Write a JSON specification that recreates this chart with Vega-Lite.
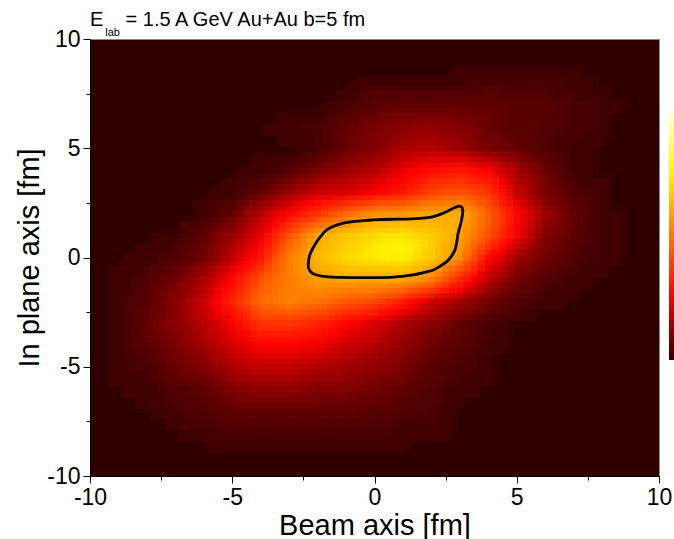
{
  "$schema": "https://vega.github.io/schema/vega-lite/v6.json",
  "width": 569,
  "height": 437,
  "autosize": {"type": "none"},
  "padding": {"left": 90, "top": 39, "right": 15, "bottom": 63},
  "background": "white",
  "title": {
    "text": "E\u00a0\u00a0\u00a0\u00a0= 1.5 A GeV Au+Au b=5 fm",
    "subtitle": "\u200b\u00a0\u00a0\u00a0\u00a0\u00a0lab",
    "anchor": "start",
    "frame": "group",
    "orient": "top",
    "font": "Liberation Sans",
    "fontSize": 20,
    "fontWeight": "normal",
    "color": "black",
    "subtitleFont": "Liberation Sans",
    "subtitleFontSize": 11,
    "subtitleColor": "black",
    "subtitlePadding": -2.5,
    "offset": 0,
    "dy": 10
  },
  "config": {
    "view": {"fill": "#300000", "stroke": "#888888", "strokeWidth": 1},
    "axis": {
      "grid": false,
      "domainColor": "black",
      "domainWidth": 1,
      "tickColor": "black",
      "tickWidth": 1,
      "labelColor": "black",
      "titleColor": "black",
      "labelFont": "Liberation Sans",
      "titleFont": "Liberation Sans",
      "labelFontSize": 23,
      "titleFontSize": 29,
      "titleFontWeight": "normal",
      "labelPadding": 3,
      "labelFlush": false,
      "labelOverlap": false
    }
  },
  "datasets": {
    "cells": [
      {"x":3,"y":8.5,"v":2},{"x":3.5,"y":8.5,"v":2},{"x":4,"y":8.5,"v":2},{"x":4.5,"y":8.5,"v":2},{"x":5,"y":8.5,"v":2},{"x":5.5,"y":8.5,"v":2},{"x":6,"y":8.5,"v":2},{"x":6.5,"y":8.5,"v":2},{"x":7,"y":8.5,"v":2},
      {"x":-0.5,"y":8,"v":2},{"x":0,"y":8,"v":2},{"x":0.5,"y":8,"v":2},{"x":1,"y":8,"v":2},{"x":1.5,"y":8,"v":2},{"x":2,"y":8,"v":2},{"x":2.5,"y":8,"v":2},{"x":3,"y":8,"v":2},{"x":3.5,"y":8,"v":3},{"x":4,"y":8,"v":3},{"x":4.5,"y":8,"v":3},{"x":5,"y":8,"v":3},{"x":5.5,"y":8,"v":3},{"x":6,"y":8,"v":3},{"x":6.5,"y":8,"v":3},{"x":7,"y":8,"v":2},{"x":7.5,"y":8,"v":2},
      {"x":-1,"y":7.5,"v":2},{"x":-0.5,"y":7.5,"v":3},{"x":0,"y":7.5,"v":4},{"x":0.5,"y":7.5,"v":4},{"x":1,"y":7.5,"v":4},{"x":1.5,"y":7.5,"v":4},{"x":2,"y":7.5,"v":4},{"x":2.5,"y":7.5,"v":4},{"x":3,"y":7.5,"v":4},{"x":3.5,"y":7.5,"v":4},{"x":4,"y":7.5,"v":5},{"x":4.5,"y":7.5,"v":4},{"x":5,"y":7.5,"v":4},{"x":5.5,"y":7.5,"v":4},{"x":6,"y":7.5,"v":4},{"x":6.5,"y":7.5,"v":3},{"x":7,"y":7.5,"v":3},{"x":7.5,"y":7.5,"v":2},{"x":8,"y":7.5,"v":2},
      {"x":-1.5,"y":7,"v":2},{"x":-1,"y":7,"v":3},{"x":-0.5,"y":7,"v":4},{"x":0,"y":7,"v":5},{"x":0.5,"y":7,"v":6},{"x":1,"y":7,"v":6},{"x":1.5,"y":7,"v":6},{"x":2,"y":7,"v":6},{"x":2.5,"y":7,"v":6},{"x":3,"y":7,"v":6},{"x":3.5,"y":7,"v":6},{"x":4,"y":7,"v":6},{"x":4.5,"y":7,"v":6},{"x":5,"y":7,"v":5},{"x":5.5,"y":7,"v":5},{"x":6,"y":7,"v":5},{"x":6.5,"y":7,"v":4},{"x":7,"y":7,"v":3},{"x":7.5,"y":7,"v":3},{"x":8,"y":7,"v":2},{"x":8.5,"y":7,"v":2},
      {"x":-3,"y":6.5,"v":2},{"x":-2.5,"y":6.5,"v":2},{"x":-2,"y":6.5,"v":2},{"x":-1.5,"y":6.5,"v":3},{"x":-1,"y":6.5,"v":5},{"x":-0.5,"y":6.5,"v":6},{"x":0,"y":6.5,"v":7},{"x":0.5,"y":6.5,"v":8},{"x":1,"y":6.5,"v":9},{"x":1.5,"y":6.5,"v":9},{"x":2,"y":6.5,"v":9},{"x":2.5,"y":6.5,"v":9},{"x":3,"y":6.5,"v":8},{"x":3.5,"y":6.5,"v":7},{"x":4,"y":6.5,"v":7},{"x":4.5,"y":6.5,"v":6},{"x":5,"y":6.5,"v":5},{"x":5.5,"y":6.5,"v":5},{"x":6,"y":6.5,"v":5},{"x":6.5,"y":6.5,"v":4},{"x":7,"y":6.5,"v":3},{"x":7.5,"y":6.5,"v":3},{"x":8,"y":6.5,"v":2},
      {"x":-3.5,"y":6,"v":2},{"x":-3,"y":6,"v":2},{"x":-2.5,"y":6,"v":3},{"x":-2,"y":6,"v":3},{"x":-1.5,"y":6,"v":5},{"x":-1,"y":6,"v":6},{"x":-0.5,"y":6,"v":8},{"x":0,"y":6,"v":9},{"x":0.5,"y":6,"v":10},{"x":1,"y":6,"v":11},{"x":1.5,"y":6,"v":12},{"x":2,"y":6,"v":12},{"x":2.5,"y":6,"v":11},{"x":3,"y":6,"v":10},{"x":3.5,"y":6,"v":9},{"x":4,"y":6,"v":7},{"x":4.5,"y":6,"v":6},{"x":5,"y":6,"v":5},{"x":5.5,"y":6,"v":5},{"x":6,"y":6,"v":4},{"x":6.5,"y":6,"v":4},{"x":7,"y":6,"v":3},{"x":7.5,"y":6,"v":3},{"x":8,"y":6,"v":2},
      {"x":-3,"y":5.5,"v":2},{"x":-2.5,"y":5.5,"v":2},{"x":-2,"y":5.5,"v":3},{"x":-1.5,"y":5.5,"v":5},{"x":-1,"y":5.5,"v":7},{"x":-0.5,"y":5.5,"v":8},{"x":0,"y":5.5,"v":10},{"x":0.5,"y":5.5,"v":11},{"x":1,"y":5.5,"v":13},{"x":1.5,"y":5.5,"v":14},{"x":2,"y":5.5,"v":14},{"x":2.5,"y":5.5,"v":13},{"x":3,"y":5.5,"v":12},{"x":3.5,"y":5.5,"v":10},{"x":4,"y":5.5,"v":8},{"x":4.5,"y":5.5,"v":7},{"x":5,"y":5.5,"v":6},{"x":5.5,"y":5.5,"v":5},{"x":6,"y":5.5,"v":4},{"x":6.5,"y":5.5,"v":3},{"x":7,"y":5.5,"v":3},{"x":7.5,"y":5.5,"v":2},{"x":8,"y":5.5,"v":2},
      {"x":-2.5,"y":5,"v":2},{"x":-2,"y":5,"v":3},{"x":-1.5,"y":5,"v":5},{"x":-1,"y":5,"v":7},{"x":-0.5,"y":5,"v":9},{"x":0,"y":5,"v":10},{"x":0.5,"y":5,"v":13},{"x":1,"y":5,"v":15},{"x":1.5,"y":5,"v":16},{"x":2,"y":5,"v":16},{"x":2.5,"y":5,"v":15},{"x":3,"y":5,"v":13},{"x":3.5,"y":5,"v":11},{"x":4,"y":5,"v":9},{"x":4.5,"y":5,"v":8},{"x":5,"y":5,"v":6},{"x":5.5,"y":5,"v":5},{"x":6,"y":5,"v":4},{"x":6.5,"y":5,"v":3},{"x":7,"y":5,"v":2},{"x":7.5,"y":5,"v":2},
      {"x":-4,"y":4.5,"v":2},{"x":-3.5,"y":4.5,"v":2},{"x":-3,"y":4.5,"v":3},{"x":-2.5,"y":4.5,"v":4},{"x":-2,"y":4.5,"v":6},{"x":-1.5,"y":4.5,"v":8},{"x":-1,"y":4.5,"v":10},{"x":-0.5,"y":4.5,"v":12},{"x":0,"y":4.5,"v":13},{"x":0.5,"y":4.5,"v":16},{"x":1,"y":4.5,"v":19},{"x":1.5,"y":4.5,"v":21},{"x":2,"y":4.5,"v":22},{"x":2.5,"y":4.5,"v":22},{"x":3,"y":4.5,"v":22},{"x":3.5,"y":4.5,"v":19},{"x":4,"y":4.5,"v":17},{"x":4.5,"y":4.5,"v":14},{"x":5,"y":4.5,"v":11},{"x":5.5,"y":4.5,"v":8},{"x":6,"y":4.5,"v":6},{"x":6.5,"y":4.5,"v":4},{"x":7,"y":4.5,"v":2},{"x":7.5,"y":4.5,"v":2},
      {"x":-4.5,"y":4,"v":2},{"x":-4,"y":4,"v":2},{"x":-3.5,"y":4,"v":3},{"x":-3,"y":4,"v":4},{"x":-2.5,"y":4,"v":7},{"x":-2,"y":4,"v":9},{"x":-1.5,"y":4,"v":11},{"x":-1,"y":4,"v":13},{"x":-0.5,"y":4,"v":15},{"x":0,"y":4,"v":16},{"x":0.5,"y":4,"v":20},{"x":1,"y":4,"v":23},{"x":1.5,"y":4,"v":26},{"x":2,"y":4,"v":28},{"x":2.5,"y":4,"v":29},{"x":3,"y":4,"v":30},{"x":3.5,"y":4,"v":28},{"x":4,"y":4,"v":25},{"x":4.5,"y":4,"v":20},{"x":5,"y":4,"v":15},{"x":5.5,"y":4,"v":11},{"x":6,"y":4,"v":7},{"x":6.5,"y":4,"v":5},{"x":7,"y":4,"v":2},{"x":7.5,"y":4,"v":2},
      {"x":-5,"y":3.5,"v":2},{"x":-4.5,"y":3.5,"v":3},{"x":-4,"y":3.5,"v":4},{"x":-3.5,"y":3.5,"v":6},{"x":-3,"y":3.5,"v":9},{"x":-2.5,"y":3.5,"v":11},{"x":-2,"y":3.5,"v":14},{"x":-1.5,"y":3.5,"v":16},{"x":-1,"y":3.5,"v":17},{"x":-0.5,"y":3.5,"v":19},{"x":0,"y":3.5,"v":21},{"x":0.5,"y":3.5,"v":24},{"x":1,"y":3.5,"v":27},{"x":1.5,"y":3.5,"v":30},{"x":2,"y":3.5,"v":34},{"x":2.5,"y":3.5,"v":35},{"x":3,"y":3.5,"v":36},{"x":3.5,"y":3.5,"v":33},{"x":4,"y":3.5,"v":31},{"x":4.5,"y":3.5,"v":24},{"x":5,"y":3.5,"v":17},{"x":5.5,"y":3.5,"v":13},{"x":6,"y":3.5,"v":8},{"x":6.5,"y":3.5,"v":6},{"x":7,"y":3.5,"v":3},{"x":7.5,"y":3.5,"v":2},{"x":8,"y":3.5,"v":2},
      {"x":-5.5,"y":3,"v":2},{"x":-5,"y":3,"v":2},{"x":-4.5,"y":3,"v":4},{"x":-4,"y":3,"v":6},{"x":-3.5,"y":3,"v":10},{"x":-3,"y":3,"v":13},{"x":-2.5,"y":3,"v":16},{"x":-2,"y":3,"v":19},{"x":-1.5,"y":3,"v":20},{"x":-1,"y":3,"v":21},{"x":-0.5,"y":3,"v":23},{"x":0,"y":3,"v":25},{"x":0.5,"y":3,"v":28},{"x":1,"y":3,"v":30},{"x":1.5,"y":3,"v":35},{"x":2,"y":3,"v":39},{"x":2.5,"y":3,"v":41},{"x":3,"y":3,"v":42},{"x":3.5,"y":3,"v":39},{"x":4,"y":3,"v":36},{"x":4.5,"y":3,"v":28},{"x":5,"y":3,"v":19},{"x":5.5,"y":3,"v":14},{"x":6,"y":3,"v":9},{"x":6.5,"y":3,"v":7},{"x":7,"y":3,"v":4},{"x":7.5,"y":3,"v":3},{"x":8,"y":3,"v":2},
      {"x":-6,"y":2.5,"v":2},{"x":-5.5,"y":2.5,"v":3},{"x":-5,"y":2.5,"v":4},{"x":-4.5,"y":2.5,"v":8},{"x":-4,"y":2.5,"v":12},{"x":-3.5,"y":2.5,"v":16},{"x":-3,"y":2.5,"v":20},{"x":-2.5,"y":2.5,"v":24},{"x":-2,"y":2.5,"v":28},{"x":-1.5,"y":2.5,"v":31},{"x":-1,"y":2.5,"v":34},{"x":-0.5,"y":2.5,"v":37},{"x":0,"y":2.5,"v":40},{"x":0.5,"y":2.5,"v":42},{"x":1,"y":2.5,"v":43},{"x":1.5,"y":2.5,"v":46},{"x":2,"y":2.5,"v":49},{"x":2.5,"y":2.5,"v":50},{"x":3,"y":2.5,"v":52},{"x":3.5,"y":2.5,"v":46},{"x":4,"y":2.5,"v":41},{"x":4.5,"y":2.5,"v":32},{"x":5,"y":2.5,"v":23},{"x":5.5,"y":2.5,"v":17},{"x":6,"y":2.5,"v":11},{"x":6.5,"y":2.5,"v":8},{"x":7,"y":2.5,"v":5},{"x":7.5,"y":2.5,"v":4},{"x":8,"y":2.5,"v":2},
      {"x":-6,"y":2,"v":2},{"x":-5.5,"y":2,"v":4},{"x":-5,"y":2,"v":6},{"x":-4.5,"y":2,"v":12},{"x":-4,"y":2,"v":17},{"x":-3.5,"y":2,"v":22},{"x":-3,"y":2,"v":27},{"x":-2.5,"y":2,"v":32},{"x":-2,"y":2,"v":36},{"x":-1.5,"y":2,"v":42},{"x":-1,"y":2,"v":47},{"x":-0.5,"y":2,"v":51},{"x":0,"y":2,"v":55},{"x":0.5,"y":2,"v":56},{"x":1,"y":2,"v":56},{"x":1.5,"y":2,"v":58},{"x":2,"y":2,"v":59},{"x":2.5,"y":2,"v":60},{"x":3,"y":2,"v":61},{"x":3.5,"y":2,"v":53},{"x":4,"y":2,"v":45},{"x":4.5,"y":2,"v":36},{"x":5,"y":2,"v":27},{"x":5.5,"y":2,"v":20},{"x":6,"y":2,"v":13},{"x":6.5,"y":2,"v":10},{"x":7,"y":2,"v":6},{"x":7.5,"y":2,"v":4},{"x":8,"y":2,"v":2},{"x":8.5,"y":2,"v":2},
      {"x":-6.5,"y":1.5,"v":3},{"x":-6,"y":1.5,"v":4},{"x":-5.5,"y":1.5,"v":7},{"x":-5,"y":1.5,"v":10},{"x":-4.5,"y":1.5,"v":15},{"x":-4,"y":1.5,"v":20},{"x":-3.5,"y":1.5,"v":27},{"x":-3,"y":1.5,"v":35},{"x":-2.5,"y":1.5,"v":41},{"x":-2,"y":1.5,"v":48},{"x":-1.5,"y":1.5,"v":52},{"x":-1,"y":1.5,"v":57},{"x":-0.5,"y":1.5,"v":60},{"x":0,"y":1.5,"v":63},{"x":0.5,"y":1.5,"v":63},{"x":1,"y":1.5,"v":64},{"x":1.5,"y":1.5,"v":63},{"x":2,"y":1.5,"v":63},{"x":2.5,"y":1.5,"v":61},{"x":3,"y":1.5,"v":60},{"x":3.5,"y":1.5,"v":52},{"x":4,"y":1.5,"v":44},{"x":4.5,"y":1.5,"v":35},{"x":5,"y":1.5,"v":26},{"x":5.5,"y":1.5,"v":19},{"x":6,"y":1.5,"v":12},{"x":6.5,"y":1.5,"v":9},{"x":7,"y":1.5,"v":6},{"x":7.5,"y":1.5,"v":4},{"x":8,"y":1.5,"v":2},{"x":8.5,"y":1.5,"v":2},
      {"x":-7.5,"y":1,"v":2},{"x":-7,"y":1,"v":2},{"x":-6.5,"y":1,"v":4},{"x":-6,"y":1,"v":6},{"x":-5.5,"y":1,"v":10},{"x":-5,"y":1,"v":13},{"x":-4.5,"y":1,"v":18},{"x":-4,"y":1,"v":23},{"x":-3.5,"y":1,"v":33},{"x":-3,"y":1,"v":42},{"x":-2.5,"y":1,"v":51},{"x":-2,"y":1,"v":59},{"x":-1.5,"y":1,"v":63},{"x":-1,"y":1,"v":66},{"x":-0.5,"y":1,"v":68},{"x":0,"y":1,"v":70},{"x":0.5,"y":1,"v":72},{"x":1,"y":1,"v":72},{"x":1.5,"y":1,"v":69},{"x":2,"y":1,"v":67},{"x":2.5,"y":1,"v":63},{"x":3,"y":1,"v":58},{"x":3.5,"y":1,"v":50},{"x":4,"y":1,"v":42},{"x":4.5,"y":1,"v":33},{"x":5,"y":1,"v":24},{"x":5.5,"y":1,"v":17},{"x":6,"y":1,"v":10},{"x":6.5,"y":1,"v":8},{"x":7,"y":1,"v":5},{"x":7.5,"y":1,"v":4},{"x":8,"y":1,"v":2},{"x":8.5,"y":1,"v":2},
      {"x":-8,"y":0.5,"v":2},{"x":-7.5,"y":0.5,"v":2},{"x":-7,"y":0.5,"v":3},{"x":-6.5,"y":0.5,"v":5},{"x":-6,"y":0.5,"v":7},{"x":-5.5,"y":0.5,"v":11},{"x":-5,"y":0.5,"v":16},{"x":-4.5,"y":0.5,"v":21},{"x":-4,"y":0.5,"v":27},{"x":-3.5,"y":0.5,"v":37},{"x":-3,"y":0.5,"v":47},{"x":-2.5,"y":0.5,"v":54},{"x":-2,"y":0.5,"v":61},{"x":-1.5,"y":0.5,"v":64},{"x":-1,"y":0.5,"v":68},{"x":-0.5,"y":0.5,"v":70},{"x":0,"y":0.5,"v":73},{"x":0.5,"y":0.5,"v":75},{"x":1,"y":0.5,"v":75},{"x":1.5,"y":0.5,"v":72},{"x":2,"y":0.5,"v":67},{"x":2.5,"y":0.5,"v":61},{"x":3,"y":0.5,"v":56},{"x":3.5,"y":0.5,"v":45},{"x":4,"y":0.5,"v":35},{"x":4.5,"y":0.5,"v":27},{"x":5,"y":0.5,"v":19},{"x":5.5,"y":0.5,"v":14},{"x":6,"y":0.5,"v":9},{"x":6.5,"y":0.5,"v":7},{"x":7,"y":0.5,"v":5},{"x":7.5,"y":0.5,"v":3},{"x":8,"y":0.5,"v":2},{"x":8.5,"y":0.5,"v":2},
      {"x":-8.5,"y":0,"v":2},{"x":-8,"y":0,"v":2},{"x":-7.5,"y":0,"v":3},{"x":-7,"y":0,"v":4},{"x":-6.5,"y":0,"v":6},{"x":-6,"y":0,"v":8},{"x":-5.5,"y":0,"v":13},{"x":-5,"y":0,"v":18},{"x":-4.5,"y":0,"v":24},{"x":-4,"y":0,"v":30},{"x":-3.5,"y":0,"v":41},{"x":-3,"y":0,"v":51},{"x":-2.5,"y":0,"v":57},{"x":-2,"y":0,"v":63},{"x":-1.5,"y":0,"v":66},{"x":-1,"y":0,"v":69},{"x":-0.5,"y":0,"v":71},{"x":0,"y":0,"v":73},{"x":0.5,"y":0,"v":74},{"x":1,"y":0,"v":74},{"x":1.5,"y":0,"v":70},{"x":2,"y":0,"v":66},{"x":2.5,"y":0,"v":60},{"x":3,"y":0,"v":53},{"x":3.5,"y":0,"v":40},{"x":4,"y":0,"v":27},{"x":4.5,"y":0,"v":21},{"x":5,"y":0,"v":14},{"x":5.5,"y":0,"v":11},{"x":6,"y":0,"v":8},{"x":6.5,"y":0,"v":6},{"x":7,"y":0,"v":4},{"x":7.5,"y":0,"v":3},{"x":8,"y":0,"v":2},{"x":8.5,"y":0,"v":2},
      {"x":-9,"y":-0.5,"v":2},{"x":-8.5,"y":-0.5,"v":2},{"x":-8,"y":-0.5,"v":3},{"x":-7.5,"y":-0.5,"v":5},{"x":-7,"y":-0.5,"v":6},{"x":-6.5,"y":-0.5,"v":9},{"x":-6,"y":-0.5,"v":12},{"x":-5.5,"y":-0.5,"v":17},{"x":-5,"y":-0.5,"v":23},{"x":-4.5,"y":-0.5,"v":29},{"x":-4,"y":-0.5,"v":36},{"x":-3.5,"y":-0.5,"v":44},{"x":-3,"y":-0.5,"v":51},{"x":-2.5,"y":-0.5,"v":56},{"x":-2,"y":-0.5,"v":60},{"x":-1.5,"y":-0.5,"v":62},{"x":-1,"y":-0.5,"v":64},{"x":-0.5,"y":-0.5,"v":65},{"x":0,"y":-0.5,"v":66},{"x":0.5,"y":-0.5,"v":66},{"x":1,"y":-0.5,"v":67},{"x":1.5,"y":-0.5,"v":63},{"x":2,"y":-0.5,"v":59},{"x":2.5,"y":-0.5,"v":51},{"x":3,"y":-0.5,"v":43},{"x":3.5,"y":-0.5,"v":33},{"x":4,"y":-0.5,"v":22},{"x":4.5,"y":-0.5,"v":17},{"x":5,"y":-0.5,"v":11},{"x":5.5,"y":-0.5,"v":9},{"x":6,"y":-0.5,"v":6},{"x":6.5,"y":-0.5,"v":5},{"x":7,"y":-0.5,"v":3},{"x":7.5,"y":-0.5,"v":2},{"x":8,"y":-0.5,"v":2},
      {"x":-9,"y":-1,"v":2},{"x":-8.5,"y":-1,"v":3},{"x":-8,"y":-1,"v":4},{"x":-7.5,"y":-1,"v":6},{"x":-7,"y":-1,"v":8},{"x":-6.5,"y":-1,"v":12},{"x":-6,"y":-1,"v":15},{"x":-5.5,"y":-1,"v":21},{"x":-5,"y":-1,"v":27},{"x":-4.5,"y":-1,"v":35},{"x":-4,"y":-1,"v":42},{"x":-3.5,"y":-1,"v":47},{"x":-3,"y":-1,"v":51},{"x":-2.5,"y":-1,"v":54},{"x":-2,"y":-1,"v":57},{"x":-1.5,"y":-1,"v":58},{"x":-1,"y":-1,"v":59},{"x":-0.5,"y":-1,"v":59},{"x":0,"y":-1,"v":59},{"x":0.5,"y":-1,"v":59},{"x":1,"y":-1,"v":59},{"x":1.5,"y":-1,"v":55},{"x":2,"y":-1,"v":51},{"x":2.5,"y":-1,"v":42},{"x":3,"y":-1,"v":33},{"x":3.5,"y":-1,"v":25},{"x":4,"y":-1,"v":17},{"x":4.5,"y":-1,"v":13},{"x":5,"y":-1,"v":8},{"x":5.5,"y":-1,"v":6},{"x":6,"y":-1,"v":4},{"x":6.5,"y":-1,"v":3},{"x":7,"y":-1,"v":2},{"x":7.5,"y":-1,"v":2},
      {"x":-9,"y":-1.5,"v":2},{"x":-8.5,"y":-1.5,"v":3},{"x":-8,"y":-1.5,"v":5},{"x":-7.5,"y":-1.5,"v":7},{"x":-7,"y":-1.5,"v":10},{"x":-6.5,"y":-1.5,"v":13},{"x":-6,"y":-1.5,"v":17},{"x":-5.5,"y":-1.5,"v":24},{"x":-5,"y":-1.5,"v":30},{"x":-4.5,"y":-1.5,"v":37},{"x":-4,"y":-1.5,"v":45},{"x":-3.5,"y":-1.5,"v":48},{"x":-3,"y":-1.5,"v":51},{"x":-2.5,"y":-1.5,"v":52},{"x":-2,"y":-1.5,"v":53},{"x":-1.5,"y":-1.5,"v":52},{"x":-1,"y":-1.5,"v":51},{"x":-0.5,"y":-1.5,"v":50},{"x":0,"y":-1.5,"v":50},{"x":0.5,"y":-1.5,"v":47},{"x":1,"y":-1.5,"v":45},{"x":1.5,"y":-1.5,"v":40},{"x":2,"y":-1.5,"v":36},{"x":2.5,"y":-1.5,"v":30},{"x":3,"y":-1.5,"v":24},{"x":3.5,"y":-1.5,"v":18},{"x":4,"y":-1.5,"v":13},{"x":4.5,"y":-1.5,"v":9},{"x":5,"y":-1.5,"v":6},{"x":5.5,"y":-1.5,"v":5},{"x":6,"y":-1.5,"v":3},{"x":6.5,"y":-1.5,"v":2},{"x":7,"y":-1.5,"v":2},
      {"x":-9,"y":-2,"v":2},{"x":-8.5,"y":-2,"v":4},{"x":-8,"y":-2,"v":5},{"x":-7.5,"y":-2,"v":8},{"x":-7,"y":-2,"v":11},{"x":-6.5,"y":-2,"v":15},{"x":-6,"y":-2,"v":19},{"x":-5.5,"y":-2,"v":26},{"x":-5,"y":-2,"v":33},{"x":-4.5,"y":-2,"v":40},{"x":-4,"y":-2,"v":47},{"x":-3.5,"y":-2,"v":49},{"x":-3,"y":-2,"v":51},{"x":-2.5,"y":-2,"v":50},{"x":-2,"y":-2,"v":49},{"x":-1.5,"y":-2,"v":46},{"x":-1,"y":-2,"v":43},{"x":-0.5,"y":-2,"v":42},{"x":0,"y":-2,"v":40},{"x":0.5,"y":-2,"v":36},{"x":1,"y":-2,"v":31},{"x":1.5,"y":-2,"v":26},{"x":2,"y":-2,"v":20},{"x":2.5,"y":-2,"v":17},{"x":3,"y":-2,"v":14},{"x":3.5,"y":-2,"v":11},{"x":4,"y":-2,"v":8},{"x":4.5,"y":-2,"v":6},{"x":5,"y":-2,"v":4},{"x":5.5,"y":-2,"v":3},{"x":6,"y":-2,"v":2},{"x":6.5,"y":-2,"v":2},
      {"x":-9,"y":-2.5,"v":2},{"x":-8.5,"y":-2.5,"v":4},{"x":-8,"y":-2.5,"v":6},{"x":-7.5,"y":-2.5,"v":8},{"x":-7,"y":-2.5,"v":11},{"x":-6.5,"y":-2.5,"v":15},{"x":-6,"y":-2.5,"v":18},{"x":-5.5,"y":-2.5,"v":24},{"x":-5,"y":-2.5,"v":29},{"x":-4.5,"y":-2.5,"v":35},{"x":-4,"y":-2.5,"v":42},{"x":-3.5,"y":-2.5,"v":43},{"x":-3,"y":-2.5,"v":44},{"x":-2.5,"y":-2.5,"v":42},{"x":-2,"y":-2.5,"v":41},{"x":-1.5,"y":-2.5,"v":38},{"x":-1,"y":-2.5,"v":35},{"x":-0.5,"y":-2.5,"v":33},{"x":0,"y":-2.5,"v":31},{"x":0.5,"y":-2.5,"v":27},{"x":1,"y":-2.5,"v":23},{"x":1.5,"y":-2.5,"v":19},{"x":2,"y":-2.5,"v":16},{"x":2.5,"y":-2.5,"v":13},{"x":3,"y":-2.5,"v":10},{"x":3.5,"y":-2.5,"v":8},{"x":4,"y":-2.5,"v":6},{"x":4.5,"y":-2.5,"v":4},{"x":5,"y":-2.5,"v":3},{"x":5.5,"y":-2.5,"v":2},
      {"x":-9,"y":-3,"v":2},{"x":-8.5,"y":-3,"v":4},{"x":-8,"y":-3,"v":6},{"x":-7.5,"y":-3,"v":9},{"x":-7,"y":-3,"v":11},{"x":-6.5,"y":-3,"v":14},{"x":-6,"y":-3,"v":17},{"x":-5.5,"y":-3,"v":21},{"x":-5,"y":-3,"v":25},{"x":-4.5,"y":-3,"v":31},{"x":-4,"y":-3,"v":36},{"x":-3.5,"y":-3,"v":36},{"x":-3,"y":-3,"v":36},{"x":-2.5,"y":-3,"v":35},{"x":-2,"y":-3,"v":33},{"x":-1.5,"y":-3,"v":30},{"x":-1,"y":-3,"v":26},{"x":-0.5,"y":-3,"v":24},{"x":0,"y":-3,"v":21},{"x":0.5,"y":-3,"v":18},{"x":1,"y":-3,"v":15},{"x":1.5,"y":-3,"v":13},{"x":2,"y":-3,"v":11},{"x":2.5,"y":-3,"v":9},{"x":3,"y":-3,"v":6},{"x":3.5,"y":-3,"v":5},{"x":4,"y":-3,"v":3},{"x":4.5,"y":-3,"v":2},
      {"x":-9,"y":-3.5,"v":2},{"x":-8.5,"y":-3.5,"v":4},{"x":-8,"y":-3.5,"v":6},{"x":-7.5,"y":-3.5,"v":8},{"x":-7,"y":-3.5,"v":10},{"x":-6.5,"y":-3.5,"v":13},{"x":-6,"y":-3.5,"v":16},{"x":-5.5,"y":-3.5,"v":19},{"x":-5,"y":-3.5,"v":23},{"x":-4.5,"y":-3.5,"v":27},{"x":-4,"y":-3.5,"v":31},{"x":-3.5,"y":-3.5,"v":31},{"x":-3,"y":-3.5,"v":31},{"x":-2.5,"y":-3.5,"v":30},{"x":-2,"y":-3.5,"v":29},{"x":-1.5,"y":-3.5,"v":26},{"x":-1,"y":-3.5,"v":23},{"x":-0.5,"y":-3.5,"v":21},{"x":0,"y":-3.5,"v":19},{"x":0.5,"y":-3.5,"v":16},{"x":1,"y":-3.5,"v":14},{"x":1.5,"y":-3.5,"v":11},{"x":2,"y":-3.5,"v":9},{"x":2.5,"y":-3.5,"v":7},{"x":3,"y":-3.5,"v":6},{"x":3.5,"y":-3.5,"v":4},{"x":4,"y":-3.5,"v":3},{"x":4.5,"y":-3.5,"v":2},
      {"x":-9,"y":-4,"v":2},{"x":-8.5,"y":-4,"v":4},{"x":-8,"y":-4,"v":5},{"x":-7.5,"y":-4,"v":7},{"x":-7,"y":-4,"v":9},{"x":-6.5,"y":-4,"v":12},{"x":-6,"y":-4,"v":14},{"x":-5.5,"y":-4,"v":17},{"x":-5,"y":-4,"v":20},{"x":-4.5,"y":-4,"v":23},{"x":-4,"y":-4,"v":26},{"x":-3.5,"y":-4,"v":26},{"x":-3,"y":-4,"v":26},{"x":-2.5,"y":-4,"v":25},{"x":-2,"y":-4,"v":24},{"x":-1.5,"y":-4,"v":22},{"x":-1,"y":-4,"v":19},{"x":-0.5,"y":-4,"v":18},{"x":0,"y":-4,"v":16},{"x":0.5,"y":-4,"v":14},{"x":1,"y":-4,"v":12},{"x":1.5,"y":-4,"v":10},{"x":2,"y":-4,"v":7},{"x":2.5,"y":-4,"v":6},{"x":3,"y":-4,"v":5},{"x":3.5,"y":-4,"v":4},{"x":4,"y":-4,"v":2},{"x":4.5,"y":-4,"v":2},
      {"x":-9,"y":-4.5,"v":2},{"x":-8.5,"y":-4.5,"v":3},{"x":-8,"y":-4.5,"v":4},{"x":-7.5,"y":-4.5,"v":6},{"x":-7,"y":-4.5,"v":8},{"x":-6.5,"y":-4.5,"v":10},{"x":-6,"y":-4.5,"v":12},{"x":-5.5,"y":-4.5,"v":15},{"x":-5,"y":-4.5,"v":18},{"x":-4.5,"y":-4.5,"v":20},{"x":-4,"y":-4.5,"v":22},{"x":-3.5,"y":-4.5,"v":22},{"x":-3,"y":-4.5,"v":22},{"x":-2.5,"y":-4.5,"v":21},{"x":-2,"y":-4.5,"v":20},{"x":-1.5,"y":-4.5,"v":18},{"x":-1,"y":-4.5,"v":17},{"x":-0.5,"y":-4.5,"v":15},{"x":0,"y":-4.5,"v":14},{"x":0.5,"y":-4.5,"v":12},{"x":1,"y":-4.5,"v":11},{"x":1.5,"y":-4.5,"v":8},{"x":2,"y":-4.5,"v":6},{"x":2.5,"y":-4.5,"v":5},{"x":3,"y":-4.5,"v":4},{"x":3.5,"y":-4.5,"v":3},{"x":4,"y":-4.5,"v":2},
      {"x":-9,"y":-5,"v":2},{"x":-8.5,"y":-5,"v":3},{"x":-8,"y":-5,"v":3},{"x":-7.5,"y":-5,"v":5},{"x":-7,"y":-5,"v":7},{"x":-6.5,"y":-5,"v":9},{"x":-6,"y":-5,"v":10},{"x":-5.5,"y":-5,"v":13},{"x":-5,"y":-5,"v":15},{"x":-4.5,"y":-5,"v":17},{"x":-4,"y":-5,"v":18},{"x":-3.5,"y":-5,"v":18},{"x":-3,"y":-5,"v":18},{"x":-2.5,"y":-5,"v":17},{"x":-2,"y":-5,"v":16},{"x":-1.5,"y":-5,"v":15},{"x":-1,"y":-5,"v":14},{"x":-0.5,"y":-5,"v":13},{"x":0,"y":-5,"v":12},{"x":0.5,"y":-5,"v":11},{"x":1,"y":-5,"v":9},{"x":1.5,"y":-5,"v":7},{"x":2,"y":-5,"v":5},{"x":2.5,"y":-5,"v":4},{"x":3,"y":-5,"v":3},{"x":3.5,"y":-5,"v":3},{"x":4,"y":-5,"v":2},
      {"x":-9,"y":-5.5,"v":2},{"x":-8.5,"y":-5.5,"v":2},{"x":-8,"y":-5.5,"v":3},{"x":-7.5,"y":-5.5,"v":4},{"x":-7,"y":-5.5,"v":6},{"x":-6.5,"y":-5.5,"v":7},{"x":-6,"y":-5.5,"v":8},{"x":-5.5,"y":-5.5,"v":10},{"x":-5,"y":-5.5,"v":13},{"x":-4.5,"y":-5.5,"v":14},{"x":-4,"y":-5.5,"v":15},{"x":-3.5,"y":-5.5,"v":15},{"x":-3,"y":-5.5,"v":15},{"x":-2.5,"y":-5.5,"v":14},{"x":-2,"y":-5.5,"v":13},{"x":-1.5,"y":-5.5,"v":13},{"x":-1,"y":-5.5,"v":12},{"x":-0.5,"y":-5.5,"v":11},{"x":0,"y":-5.5,"v":10},{"x":0.5,"y":-5.5,"v":9},{"x":1,"y":-5.5,"v":8},{"x":1.5,"y":-5.5,"v":6},{"x":2,"y":-5.5,"v":5},{"x":2.5,"y":-5.5,"v":4},{"x":3,"y":-5.5,"v":3},{"x":3.5,"y":-5.5,"v":2},{"x":4,"y":-5.5,"v":2},
      {"x":-8.5,"y":-6,"v":2},{"x":-8,"y":-6,"v":2},{"x":-7.5,"y":-6,"v":3},{"x":-7,"y":-6,"v":4},{"x":-6.5,"y":-6,"v":5},{"x":-6,"y":-6,"v":6},{"x":-5.5,"y":-6,"v":8},{"x":-5,"y":-6,"v":10},{"x":-4.5,"y":-6,"v":11},{"x":-4,"y":-6,"v":12},{"x":-3.5,"y":-6,"v":12},{"x":-3,"y":-6,"v":12},{"x":-2.5,"y":-6,"v":11},{"x":-2,"y":-6,"v":10},{"x":-1.5,"y":-6,"v":10},{"x":-1,"y":-6,"v":10},{"x":-0.5,"y":-6,"v":9},{"x":0,"y":-6,"v":8},{"x":0.5,"y":-6,"v":7},{"x":1,"y":-6,"v":6},{"x":1.5,"y":-6,"v":5},{"x":2,"y":-6,"v":4},{"x":2.5,"y":-6,"v":3},{"x":3,"y":-6,"v":2},{"x":3.5,"y":-6,"v":2},
      {"x":-8,"y":-6.5,"v":2},{"x":-7.5,"y":-6.5,"v":3},{"x":-7,"y":-6.5,"v":4},{"x":-6.5,"y":-6.5,"v":4},{"x":-6,"y":-6.5,"v":5},{"x":-5.5,"y":-6.5,"v":6},{"x":-5,"y":-6.5,"v":8},{"x":-4.5,"y":-6.5,"v":9},{"x":-4,"y":-6.5,"v":9},{"x":-3.5,"y":-6.5,"v":9},{"x":-3,"y":-6.5,"v":9},{"x":-2.5,"y":-6.5,"v":9},{"x":-2,"y":-6.5,"v":8},{"x":-1.5,"y":-6.5,"v":8},{"x":-1,"y":-6.5,"v":8},{"x":-0.5,"y":-6.5,"v":7},{"x":0,"y":-6.5,"v":7},{"x":0.5,"y":-6.5,"v":6},{"x":1,"y":-6.5,"v":5},{"x":1.5,"y":-6.5,"v":4},{"x":2,"y":-6.5,"v":4},{"x":2.5,"y":-6.5,"v":3},{"x":3,"y":-6.5,"v":2},
      {"x":-7.5,"y":-7,"v":2},{"x":-7,"y":-7,"v":3},{"x":-6.5,"y":-7,"v":4},{"x":-6,"y":-7,"v":4},{"x":-5.5,"y":-7,"v":5},{"x":-5,"y":-7,"v":6},{"x":-4.5,"y":-7,"v":6},{"x":-4,"y":-7,"v":6},{"x":-3.5,"y":-7,"v":6},{"x":-3,"y":-7,"v":6},{"x":-2.5,"y":-7,"v":6},{"x":-2,"y":-7,"v":6},{"x":-1.5,"y":-7,"v":6},{"x":-1,"y":-7,"v":6},{"x":-0.5,"y":-7,"v":6},{"x":0,"y":-7,"v":5},{"x":0.5,"y":-7,"v":5},{"x":1,"y":-7,"v":4},{"x":1.5,"y":-7,"v":4},{"x":2,"y":-7,"v":3},{"x":2.5,"y":-7,"v":2},
      {"x":-7,"y":-7.5,"v":2},{"x":-6.5,"y":-7.5,"v":3},{"x":-6,"y":-7.5,"v":3},{"x":-5.5,"y":-7.5,"v":4},{"x":-5,"y":-7.5,"v":5},{"x":-4.5,"y":-7.5,"v":5},{"x":-4,"y":-7.5,"v":5},{"x":-3.5,"y":-7.5,"v":5},{"x":-3,"y":-7.5,"v":5},{"x":-2.5,"y":-7.5,"v":5},{"x":-2,"y":-7.5,"v":5},{"x":-1.5,"y":-7.5,"v":5},{"x":-1,"y":-7.5,"v":5},{"x":-0.5,"y":-7.5,"v":4},{"x":0,"y":-7.5,"v":4},{"x":0.5,"y":-7.5,"v":4},{"x":1,"y":-7.5,"v":3},{"x":1.5,"y":-7.5,"v":3},{"x":2,"y":-7.5,"v":3},{"x":2.5,"y":-7.5,"v":2},
      {"x":-6.5,"y":-8,"v":2},{"x":-6,"y":-8,"v":2},{"x":-5.5,"y":-8,"v":3},{"x":-5,"y":-8,"v":3},{"x":-4.5,"y":-8,"v":3},{"x":-4,"y":-8,"v":3},{"x":-3.5,"y":-8,"v":3},{"x":-3,"y":-8,"v":3},{"x":-2.5,"y":-8,"v":3},{"x":-2,"y":-8,"v":3},{"x":-1.5,"y":-8,"v":3},{"x":-1,"y":-8,"v":3},{"x":-0.5,"y":-8,"v":3},{"x":0,"y":-8,"v":3},{"x":0.5,"y":-8,"v":3},{"x":1,"y":-8,"v":2},{"x":1.5,"y":-8,"v":2},{"x":2,"y":-8,"v":2},{"x":2.5,"y":-8,"v":2},
      {"x":-5.5,"y":-8.5,"v":2},{"x":-5,"y":-8.5,"v":2},{"x":-4.5,"y":-8.5,"v":2},{"x":-4,"y":-8.5,"v":2},{"x":-3.5,"y":-8.5,"v":2},{"x":-3,"y":-8.5,"v":2},{"x":-2.5,"y":-8.5,"v":2},{"x":-2,"y":-8.5,"v":2},{"x":-1.5,"y":-8.5,"v":2},{"x":-1,"y":-8.5,"v":2},{"x":-0.5,"y":-8.5,"v":2},{"x":0,"y":-8.5,"v":2},{"x":0.5,"y":-8.5,"v":2},{"x":1,"y":-8.5,"v":2}
    ],
    "contour": [
      {"x":-2.33,"y":-0.4,"k":1},{"x":-2.28,"y":0.1,"k":2},{"x":-2.1,"y":0.57,"k":3},{"x":-1.9,"y":0.95,"k":4},{"x":-1.68,"y":1.26,"k":5},{"x":-1.1,"y":1.57,"k":6},{"x":-0.5,"y":1.68,"k":7},{"x":-0.04,"y":1.72,"k":8},{"x":0.6,"y":1.75,"k":9},{"x":1.13,"y":1.76,"k":10},{"x":1.7,"y":1.8,"k":11},{"x":2.07,"y":1.87,"k":12},{"x":2.4,"y":2.02,"k":13},{"x":2.65,"y":2.17,"k":14},{"x":2.85,"y":2.3,"k":15},{"x":2.97,"y":2.35,"k":16},{"x":3.07,"y":2.3,"k":17},{"x":3.1,"y":2.17,"k":18},{"x":3.09,"y":1.95,"k":19},{"x":3.06,"y":1.72,"k":20},{"x":3.0,"y":1.4,"k":21},{"x":2.94,"y":1.11,"k":22},{"x":2.89,"y":0.7,"k":23},{"x":2.83,"y":0.34,"k":24},{"x":2.7,"y":0.05,"k":25},{"x":2.54,"y":-0.19,"k":26},{"x":2.3,"y":-0.4,"k":27},{"x":2.07,"y":-0.57,"k":28},{"x":1.7,"y":-0.7,"k":29},{"x":1.36,"y":-0.8,"k":30},{"x":0.9,"y":-0.87,"k":31},{"x":0.54,"y":-0.91,"k":32},{"x":-0.3,"y":-0.92,"k":33},{"x":-1.21,"y":-0.91,"k":34},{"x":-1.7,"y":-0.88,"k":35},{"x":-2.03,"y":-0.8,"k":36},{"x":-2.2,"y":-0.7,"k":37},{"x":-2.29,"y":-0.57,"k":38},{"x":-2.33,"y":-0.4,"k":39}
    ]
  },
  "layer": [
    {
      "data": {"name": "cells"},
      "mark": {"type": "rect", "clip": true, "binSpacing": -1},
      "encoding": {
        "x": {
          "field": "x",
          "type": "quantitative",
          "bin": {"step": 0.5, "extent": [-10.375, 10.125], "nice": false},
          "scale": {"domain": [-10, 10], "nice": false, "zero": false},
          "axis": {
            "title": "Beam axis [fm]",
            "values": [-10, -7.5, -5, -2.5, 0, 2.5, 5, 7.5, 10],
            "labelExpr": "datum.value % 5 === 0 ? '' + datum.value : ''",
            "tickSize": {"condition": {"test": "datum.value % 5 !== 0", "value": 4}, "value": 7},
            "titlePadding": 2
          }
        },
        "y": {
          "field": "y",
          "type": "quantitative",
          "bin": {"step": 0.5, "extent": [-10.375, 10.125], "nice": false},
          "scale": {"domain": [-10, 10], "nice": false, "zero": false},
          "axis": {
            "title": "In plane axis [fm]",
            "values": [-10, -7.5, -5, -2.5, 0, 2.5, 5, 7.5, 10],
            "labelExpr": "datum.value % 5 === 0 ? '' + datum.value : ''",
            "tickSize": {"condition": {"test": "datum.value % 5 !== 0", "value": 4}, "value": 7},
            "titlePadding": 2
          }
        },
        "color": {
          "field": "v",
          "type": "quantitative",
          "scale": {
            "domain": [0, 103],
            "range": ["#300000", "#ff0000", "#ff8000", "#ffff00", "#ffffff"],
            "interpolate": "rgb"
          },
          "legend": {
            "type": "gradient",
            "orient": "none",
            "legendX": 579,
            "legendY": 64,
            "direction": "vertical",
            "gradientLength": 257,
            "gradientThickness": 16,
            "gradientStrokeWidth": 0,
            "title": null,
            "labelExpr": "''",
            "labelOpacity": 0
          }
        }
      }
    },
    {
      "data": {"name": "cells"},
      "mark": {"type": "rect", "clip": true, "opacity": 0.5},
      "encoding": {
        "x": {
          "field": "x",
          "type": "quantitative",
          "bin": {"step": 0.5, "extent": [-10.125, 10.375], "nice": false}
        },
        "y": {
          "field": "y",
          "type": "quantitative",
          "bin": {"step": 0.5, "extent": [-10.125, 10.375], "nice": false}
        },
        "color": {"field": "v", "type": "quantitative", "legend": null}
      }
    },
    {
      "data": {"name": "contour"},
      "mark": {"type": "line", "interpolate": "catmull-rom", "stroke": "black", "strokeWidth": 2.8},
      "encoding": {
        "x": {"field": "x", "type": "quantitative"},
        "y": {"field": "y", "type": "quantitative"},
        "order": {"field": "k", "type": "quantitative"}
      }
    }
  ]
}
